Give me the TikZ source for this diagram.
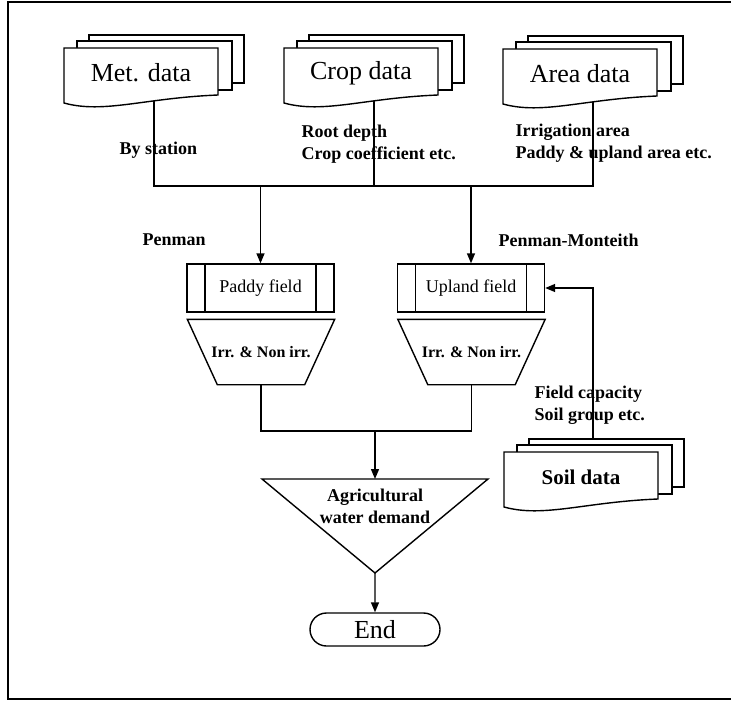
\documentclass[tikz,border=0pt]{standalone}
\usepackage{fontspec}
\setmainfont{Liberation Serif}
\usetikzlibrary{arrows.meta,shapes.misc}

\tikzset{
  doctext/.style={font=\fontsize{26}{30}\selectfont, inner sep=0pt},
  note/.style={anchor=west, align=left, inner sep=0pt, font=\fontsize{18}{22}\selectfont\bfseries},
  field/.style={draw, minimum width=147pt, minimum height=48pt, inner sep=0pt,
    font=\fontsize{18}{22}\selectfont,
    path picture={
      \draw ([xshift=18pt]path picture bounding box.north west) -- ([xshift=18pt]path picture bounding box.south west);
      \draw ([xshift=-18pt]path picture bounding box.north east) -- ([xshift=-18pt]path picture bounding box.south east);
    }},
  irr/.style={minimum width=146pt, minimum height=64pt, inner sep=0pt,
    font=\fontsize{16}{19}\selectfont\bfseries,
    append after command={\pgfextra{
      \draw (\tikzlastnode.north west) -- (\tikzlastnode.north east)
        -- ([xshift=-30pt]\tikzlastnode.south east)
        -- ([xshift=30pt]\tikzlastnode.south west) -- cycle;}}},
  endbox/.style={draw, rounded rectangle, minimum width=130pt, minimum height=33pt,
    inner sep=0pt, font=\fontsize{26}{30}\selectfont},
}

% stacked document symbol: name, x, y of front top left, text
\newcommand{\docstack}[4]{%
  \begin{scope}[shift={(#2,#3)}]
    \filldraw[fill=white] (25,-13) rectangle (180,35);
    \filldraw[fill=white] (13,-7) rectangle (168,42);
    \filldraw[fill=white] (0,0) -- (154,0) -- (154,47)
      .. controls (80,50) and (40,66) .. (0,55) -- cycle;
    \node[doctext] (#1) at (77,25) {#4};
    \coordinate (#1-out) at (90,53);
    \coordinate (#1-in) at (89,-13);
  \end{scope}%
}

\begin{document}
\begin{tikzpicture}[x=1pt,y=-1pt,line width=1.4pt,>={Triangle[length=10pt,width=8pt]}]
  \useasboundingbox (0,0) rectangle (731,701);
  \draw (731,2) -- (8,2) -- (8,699) -- (731,699);

  % input data
  \docstack{met}{64}{48}{Met. data}
  \docstack{crop}{284}{48}{Crop data}
  \docstack{area}{503}{49}{Area data}

  \node[note] (bystation) at (119,150) {By station};
  \node[note] (cropnote) at (301,144) {Root depth\\Crop coefficient etc.};
  \node[note] (areanote) at (515,143) {Irrigation area\\Paddy \& upland area etc.};

  \coordinate (join) at (374,186);
  \draw (met-out) |- (join) -| (area-out);
  \draw (crop-out) -- (join);

  % fields
  \node[note] (penman) at (142,240) {Penman};
  \node[note] (monteith) at (498,240) {Penman-Monteith};
  \node[field] (paddy) at (260.5,288) {Paddy field};
  \node[field] (upland) at (471,288) {Upland field};
  \draw[->] (paddy.north |- join) -- (paddy.north);
  \draw[->] (upland.north |- join) -- (upland.north);

  \node[irr] (irrpaddy) at (261,352) {Irr. \& Non irr.};
  \node[irr] (irrupland) at (471.5,352) {Irr. \& Non irr.};

  % demand
  \coordinate (merge) at (375,431);
  \draw (irrpaddy.south) |- (merge) -| (irrupland.south);
  \coordinate (tritop) at (375,479);
  \coordinate (tritip) at (375,573);
  \draw (262,479) -- (488,479) -- (tritip) -- cycle;
  \node[font=\fontsize{18}{22}\selectfont\bfseries, align=center, inner sep=0pt] (demand) at (375,506) {Agricultural\\water demand};
  \draw[->] (merge) -- (tritop);

  \node[endbox] (end) at (375,629.5) {End};
  \draw[->] (tritip) -- (end);

  % soil
  \docstack{soil}{504}{452}{\fontsize{21}{25}\selectfont\bfseries Soil data}
  \node[note] (soilnote) at (534,405) {Field capacity\\Soil group etc.};
  \draw[->] (soil-in) |- (upland.east);
\end{tikzpicture}
\end{document}
